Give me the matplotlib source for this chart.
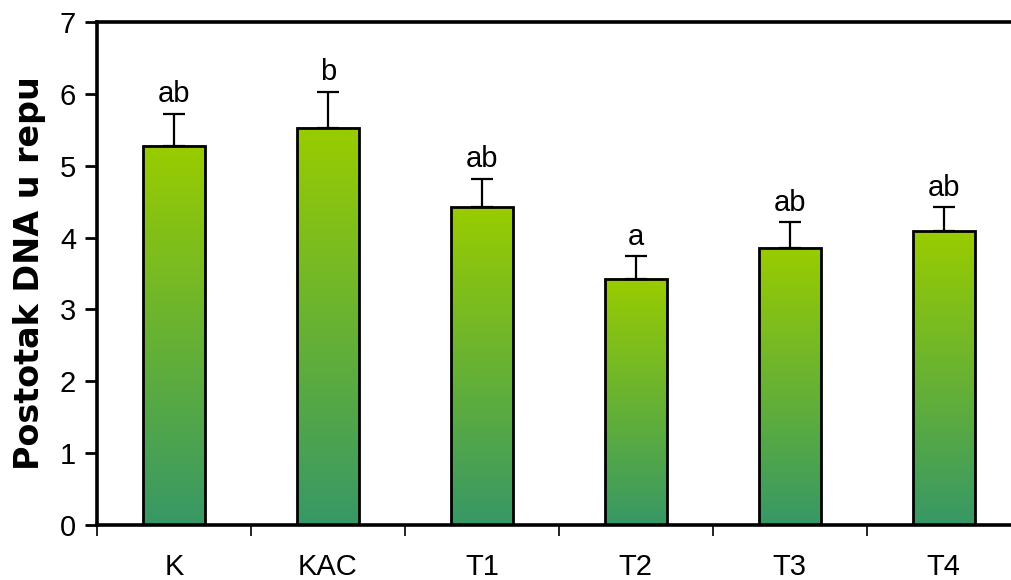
import numpy as np
import matplotlib
matplotlib.use("Agg")
import matplotlib.pyplot as plt
from matplotlib.colors import LinearSegmentedColormap

categories = ["K", "KAC", "T1", "T2", "T3", "T4"]
values = [5.28, 5.53, 4.42, 3.43, 3.86, 4.09]
errors = [0.44, 0.50, 0.40, 0.31, 0.35, 0.33]
letters = ["ab", "b", "ab", "a", "ab", "ab"]

fig = plt.figure(figsize=(10.11, 5.8), dpi=100)
ax = fig.add_axes([97 / 1011, 1 - 525 / 580, 1 - 97 / 1011 + 0.002, (525 - 22) / 580])

grad = LinearSegmentedColormap.from_list("g", ["#379866", "#99cc00"])
x = np.arange(len(categories)) + 0.5
width = 0.4
img = np.linspace(0, 1, 256).reshape(-1, 1)

for xi, v, e, lab in zip(x, values, errors, letters):
    ax.imshow(img, cmap=grad, origin="lower", aspect="auto",
              extent=[xi - width / 2, xi + width / 2, 0, v], zorder=2)
    ax.bar(xi, v, width=width, facecolor="none", edgecolor="black", linewidth=2, zorder=3)
    ax.errorbar(xi, v, yerr=[[0], [e]], fmt="none", ecolor="black",
                elinewidth=1.6, capsize=8, capthick=1.6, zorder=4)
    ax.text(xi, v + e + 0.08, lab, ha="center", va="bottom", fontsize=21,
            family="Liberation Sans")

ax.set_xlim(0, 5.95)
ax.set_ylim(0, 7)
ax.set_yticks(range(0, 8))
ax.set_xticks(np.arange(0, 6))
ax.set_xticks(x, minor=True)
ax.set_xticklabels([])
ax.set_xticklabels(categories, minor=True)
ax.tick_params(axis="x", which="major", direction="out", length=8, width=1.2, pad=0)
ax.tick_params(axis="x", which="minor", length=0, pad=20, labelsize=21)
ax.tick_params(axis="y", direction="out", length=9, width=2, labelsize=21, pad=6)
for t in ax.get_xticklabels(minor=True) + ax.get_yticklabels():
    t.set_family("Liberation Sans")

for s in ["left", "bottom", "top"]:
    ax.spines[s].set_linewidth(2.6)
ax.spines["right"].set_visible(False)

ax.set_ylabel("Postotak DNA u repu", fontsize=24, fontweight="bold", labelpad=10)

fig.savefig("out.png", dpi=100, facecolor="white")
